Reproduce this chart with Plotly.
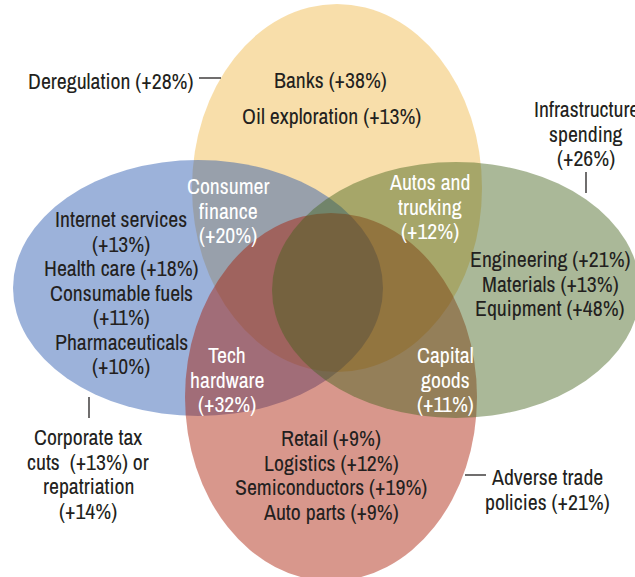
import plotly.graph_objects as go

# sectors that gain under each policy (percent gains)
top_items = ["Banks", "Oil exploration"]
top_pct = [38, 13]
left_items = ["Internet services", "Health care", "Consumable fuels", "Pharmaceuticals"]
left_pct = [13, 18, 11, 10]
right_items = ["Engineering", "Materials", "Equipment"]
right_pct = [21, 13, 48]
bottom_items = ["Retail", "Logistics", "Semiconductors", "Auto parts"]
bottom_pct = [9, 12, 19, 9]

# overlaps
overlap_items = [["Consumer", "finance"], ["Autos and", "trucking"],
                 ["Tech", "hardware"], ["Capital", "goods"]]
overlap_pct = [20, 12, 32, 11]

# policy labels
policy_labels = [["Deregulation (+28%)"],
                 ["Infrastructure", "spending", "(+26%)"],
                 ["Corporate tax", "cuts  (+13%) or", "repatriation", "(+14%)"],
                 ["Adverse trade", "policies (+21%)"]]

W, H = 635, 577
FONT = "Archivo Narrow, Liberation Sans Narrow, Roboto, sans-serif"
DARK = "#231f20"
LH = 24.5  # line height
FS = 21.8

fig = go.Figure()
# invisible trace so the axes exist
fig.add_trace(go.Scatter(x=[0, W], y=[0, H], mode="markers",
                         marker=dict(opacity=0), hoverinfo="skip", showlegend=False))

# ellipses: (cx, cy, rx, ry, colour), drawn in this order at 45% opacity
ellipses = [
    (337, 188, 145, 184, "rgb(239,182,66)"),    # deregulation
    (198, 288, 185, 128, "rgb(35,84,173)"),     # tax
    (331, 397, 146, 184, "rgb(168,24,1)"),      # trade
    (456, 290, 184, 128, "rgb(66,97,26)"),      # infrastructure
]
for cx, cy, rx, ry, col in ellipses:
    fig.add_shape(type="circle", xref="x", yref="y",
                  x0=cx - rx, x1=cx + rx, y0=cy - ry, y1=cy + ry,
                  fillcolor=col, opacity=0.45, line=dict(width=0), layer="below")


def add_lines(x, y0, rows, color=DARK, xanchor="center"):
    # one annotation per line, so the leading can be set tight
    for i, t in enumerate(rows):
        fig.add_annotation(x=x, y=y0 + i * LH, xref="x", yref="y", text=t,
                           showarrow=False, xanchor=xanchor, yanchor="middle",
                           font=dict(family=FONT, size=FS, color=color))


add_lines(330, 80, [f"{top_items[0]} (+{top_pct[0]}%)"])
add_lines(331, 116, [f"{top_items[1]} (+{top_pct[1]}%)"])

left_rows = [left_items[0], f"(+{left_pct[0]}%)",
             f"{left_items[1]} (+{left_pct[1]}%)",
             left_items[2], f"(+{left_pct[2]}%)",
             left_items[3], f"(+{left_pct[3]}%)"]
add_lines(121, 219, left_rows)
add_lines(550, 259, [f"{a} (+{p}%)" for a, p in zip(right_items, right_pct)])
add_lines(331, 438, [f"{a} (+{p}%)" for a, p in zip(bottom_items, bottom_pct)])

ov_pos = [(228, 186), (430, 182), (227, 355), (445, 355)]
for (x, y), rows, p in zip(ov_pos, overlap_items, overlap_pct):
    add_lines(x, y, rows + [f"(+{p}%)"], color="white")

add_lines(195, 81, policy_labels[0], xanchor="right")
add_lines(586, 109, policy_labels[1])
add_lines(88, 437, policy_labels[2])
add_lines(547, 477, policy_labels[3])

# leader lines
for x0, y0, x1, y1 in [(199, 78, 221, 78), (586, 172, 586, 193),
                       (89, 397, 89, 418), (465, 475, 486, 475)]:
    fig.add_shape(type="line", xref="x", yref="y", x0=x0, y0=y0, x1=x1, y1=y1,
                  line=dict(color=DARK, width=1.3))

fig.update_xaxes(range=[0, W], visible=False, fixedrange=True)
fig.update_yaxes(range=[H, 0], visible=False, fixedrange=True)
fig.update_layout(width=W, height=H, margin=dict(l=0, r=0, t=0, b=0),
                  plot_bgcolor="white", paper_bgcolor="white", showlegend=False)

fig.write_html("out.html", config={"displayModeBar": False},
               post_script="document.body.style.margin='0';")
